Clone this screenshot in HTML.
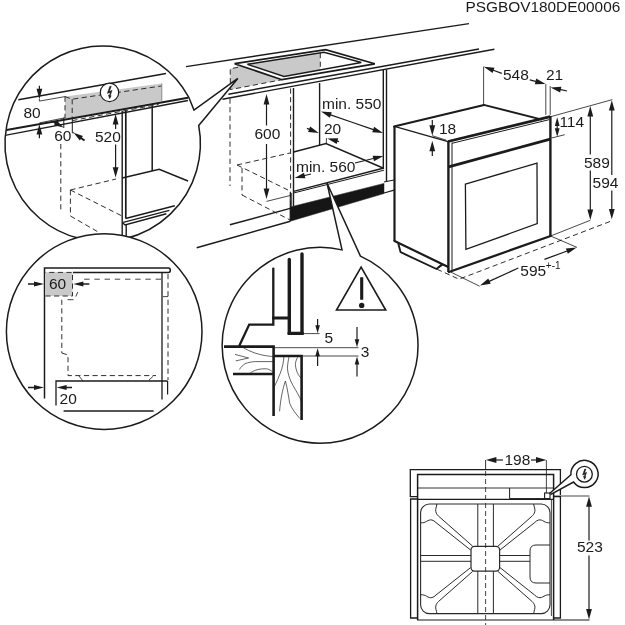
<!DOCTYPE html>
<html><head><meta charset="utf-8"><title>PSGBOV180DE00006</title>
<style>
html,body{margin:0;padding:0;background:#fff}
svg{display:block;filter:grayscale(1)}
text{font-family:"Liberation Sans",Arial,sans-serif;fill:#1b1b1b}
</style></head><body>
<svg width="625" height="625" viewBox="0 0 625 625">
<rect width="625" height="625" fill="#fff"/>
<text x="465.4" y="11.8" font-size="15.4">PSGBOV180DE00006</text>
<line x1="186" y1="66.6" x2="469" y2="23.6" stroke="#1b1b1b" stroke-width="1.4" stroke-linecap="butt"/>
<polygon points="230.2,68.8 238,67.3 234.6,63.7 282,79.7 230.4,89.6" fill="#c9c9c9" stroke="none" stroke-width="0" stroke-linejoin="miter" stroke-linecap="butt"/>
<polygon points="247.4,64.3 320.2,52.9 320.2,70 284,76.5" fill="#c9c9c9" stroke="none" stroke-width="0" stroke-linejoin="miter" stroke-linecap="butt"/>
<polyline points="238,67.3 230.2,68.8 230.4,89.6 282,79.7" fill="none" stroke="#2e2e2e" stroke-width="1.0" stroke-linejoin="miter" stroke-linecap="butt" stroke-dasharray="5.2 3.4"/>
<line x1="320.3" y1="53" x2="320.3" y2="70" stroke="#2e2e2e" stroke-width="1.0" stroke-linecap="butt" stroke-dasharray="5.2 3.4"/>
<polygon points="234.6,63.7 325.6,49.6 374.8,63.8 282,79.7" fill="none" stroke="#1b1b1b" stroke-width="1.7" stroke-linejoin="miter" stroke-linecap="butt"/>
<polygon points="247.4,64.3 324,52.3 361.3,62.5 284,76.5" fill="none" stroke="#1b1b1b" stroke-width="1.4" stroke-linejoin="miter" stroke-linecap="butt"/>
<line x1="228.4" y1="94.2" x2="479" y2="49" stroke="#1b1b1b" stroke-width="1.4" stroke-linecap="butt"/>
<line x1="222.5" y1="99.2" x2="494.4" y2="49.2" stroke="#1b1b1b" stroke-width="1.4" stroke-linecap="butt"/>
<line x1="230" y1="98.5" x2="230" y2="186" stroke="#2e2e2e" stroke-width="1.0" stroke-linecap="butt" stroke-dasharray="5.2 3.4"/>
<line x1="290.6" y1="88.5" x2="290.6" y2="220" stroke="#2e2e2e" stroke-width="1.0" stroke-linecap="butt" stroke-dasharray="5.2 3.4"/>
<line x1="293.5" y1="88" x2="293.5" y2="206" stroke="#1b1b1b" stroke-width="1.4" stroke-linecap="butt"/>
<line x1="319.6" y1="83" x2="319.6" y2="145" stroke="#1b1b1b" stroke-width="1.4" stroke-linecap="butt"/>
<line x1="383.3" y1="70" x2="383.3" y2="169" stroke="#1b1b1b" stroke-width="1.4" stroke-linecap="butt"/>
<line x1="386.5" y1="69.5" x2="386.5" y2="181.5" stroke="#1b1b1b" stroke-width="1.4" stroke-linecap="butt"/>
<line x1="266.5" y1="125.5" x2="266.5" y2="103.4" stroke="#1b1b1b" stroke-width="1.2" stroke-linecap="butt"/>
<polygon points="266.5,94 269.4,104.4 263.6,104.4" fill="#1b1b1b"/>
<line x1="266.5" y1="144" x2="266.5" y2="189.6" stroke="#1b1b1b" stroke-width="1.2" stroke-linecap="butt"/>
<polygon points="266.5,199 263.6,188.6 269.4,188.6" fill="#1b1b1b"/>
<line x1="266.5" y1="201.4" x2="290.6" y2="195.4" stroke="#1b1b1b" stroke-width="0.8" stroke-linecap="butt"/>
<text x="254.4" y="138.6" font-size="15.5">600</text>
<line x1="237" y1="165" x2="290" y2="153" stroke="#2e2e2e" stroke-width="1.0" stroke-linecap="butt" stroke-dasharray="5.2 3.4"/>
<line x1="237" y1="165" x2="290" y2="191" stroke="#2e2e2e" stroke-width="1.0" stroke-linecap="butt" stroke-dasharray="5.2 3.4"/>
<line x1="242" y1="168" x2="242" y2="195" stroke="#2e2e2e" stroke-width="1.0" stroke-linecap="butt" stroke-dasharray="5.2 3.4"/>
<line x1="242" y1="195" x2="290" y2="220" stroke="#2e2e2e" stroke-width="1.0" stroke-linecap="butt" stroke-dasharray="5.2 3.4"/>
<polyline points="293.6,152 326,143.6 383,168" fill="none" stroke="#1b1b1b" stroke-width="1.4" stroke-linejoin="miter" stroke-linecap="butt"/>
<line x1="326.4" y1="138" x2="326.4" y2="143.6" stroke="#1b1b1b" stroke-width="0.8" stroke-linecap="butt"/>
<line x1="293.6" y1="191.4" x2="384" y2="168" stroke="#1b1b1b" stroke-width="1.4" stroke-linecap="butt"/>
<line x1="293.6" y1="193" x2="384" y2="170.2" stroke="#1b1b1b" stroke-width="1.0" stroke-linecap="butt"/>
<line x1="290.3" y1="192.3" x2="290.3" y2="221" stroke="#1b1b1b" stroke-width="1.2" stroke-linecap="butt"/>
<line x1="291.6" y1="193" x2="291.6" y2="207" stroke="#1b1b1b" stroke-width="0.8" stroke-linecap="butt"/>
<polygon points="290.3,207 384,183.4 384,193.6 290.3,221.2" fill="#161616" stroke="#1b1b1b" stroke-width="0.5" stroke-linejoin="miter" stroke-linecap="butt"/>
<line x1="384" y1="182" x2="394" y2="180" stroke="#1b1b1b" stroke-width="1.2" stroke-linecap="butt"/>
<line x1="384" y1="193" x2="394" y2="190.2" stroke="#1b1b1b" stroke-width="1.2" stroke-linecap="butt"/>
<line x1="229.9" y1="224.8" x2="290.2" y2="208.4" stroke="#1b1b1b" stroke-width="1.5" stroke-linecap="butt"/>
<line x1="196.7" y1="247.8" x2="290.4" y2="221.2" stroke="#1b1b1b" stroke-width="1.5" stroke-linecap="butt"/>
<text x="322" y="109" font-size="15.5">min. 550</text>
<line x1="352" y1="122.3" x2="329.89" y2="114.67" stroke="#1b1b1b" stroke-width="1.2" stroke-linecap="butt"/>
<polygon points="321,111.6 331.78,112.25 329.88,117.73" fill="#1b1b1b"/>
<line x1="352" y1="122.3" x2="374.11" y2="129.93" stroke="#1b1b1b" stroke-width="1.2" stroke-linecap="butt"/>
<polygon points="383,133 372.22,132.35 374.12,126.87" fill="#1b1b1b"/>
<text x="324" y="134.4" font-size="15.5">20</text>
<line x1="307" y1="128.4" x2="310.04" y2="129.59" stroke="#1b1b1b" stroke-width="1.2" stroke-linecap="butt"/>
<polygon points="318.8,133 308.06,131.92 310.16,126.52" fill="#1b1b1b"/>
<line x1="339" y1="141.6" x2="336.46" y2="140.9" stroke="#1b1b1b" stroke-width="1.2" stroke-linecap="butt"/>
<polygon points="327.4,138.4 338.2,138.37 336.65,143.96" fill="#1b1b1b"/>
<text x="296" y="172.4" font-size="15.5">min. 560</text>
<line x1="311" y1="174" x2="303.73" y2="175.77" stroke="#1b1b1b" stroke-width="1.2" stroke-linecap="butt"/>
<polygon points="294.6,178 304.02,172.72 305.39,178.35" fill="#1b1b1b"/>
<line x1="355" y1="163" x2="374.27" y2="158.25" stroke="#1b1b1b" stroke-width="1.2" stroke-linecap="butt"/>
<polygon points="383.4,156 374.0,161.3 372.61,155.67" fill="#1b1b1b"/>
<polygon points="394.4,126.4 484,105 549,116 448,141.6" fill="#fff" stroke="none" stroke-width="0" stroke-linejoin="miter" stroke-linecap="butt"/>
<polygon points="394.4,126.4 394.4,240 448,266 448,141.6" fill="#fff" stroke="none" stroke-width="0" stroke-linejoin="miter" stroke-linecap="butt"/>
<polygon points="448,141.6 550.3,116 550.3,236 449,272" fill="#fff" stroke="none" stroke-width="0" stroke-linejoin="miter" stroke-linecap="butt"/>
<line x1="394" y1="126.5" x2="484" y2="105" stroke="#1b1b1b" stroke-width="2.0" stroke-linecap="round"/>
<line x1="483.8" y1="104.9" x2="541" y2="119.4" stroke="#1b1b1b" stroke-width="2.0" stroke-linecap="round"/>
<line x1="394.4" y1="126.4" x2="448" y2="141.6" stroke="#1b1b1b" stroke-width="1.2" stroke-linecap="butt"/>
<line x1="432.3" y1="135.7" x2="446.3" y2="140.2" stroke="#1b1b1b" stroke-width="0.8" stroke-linecap="butt"/>
<line x1="394.5" y1="126.4" x2="394.5" y2="241" stroke="#1b1b1b" stroke-width="2.2" stroke-linecap="butt"/>
<line x1="394.5" y1="241" x2="447.7" y2="266.7" stroke="#1b1b1b" stroke-width="2.2" stroke-linecap="round"/>
<line x1="448.4" y1="141.6" x2="448.4" y2="272" stroke="#1b1b1b" stroke-width="2.4" stroke-linecap="butt"/>
<line x1="452" y1="142.5" x2="452" y2="271" stroke="#1b1b1b" stroke-width="1.0" stroke-linecap="butt"/>
<line x1="448" y1="141.5" x2="550.4" y2="116.6" stroke="#1b1b1b" stroke-width="2.8" stroke-linecap="butt"/>
<line x1="452" y1="143.3" x2="549.4" y2="119.6" stroke="#1b1b1b" stroke-width="1.0" stroke-linecap="butt"/>
<line x1="448.6" y1="166.8" x2="550.3" y2="139.1" stroke="#1b1b1b" stroke-width="2.8" stroke-linecap="butt"/>
<line x1="449" y1="272" x2="550.6" y2="236" stroke="#1b1b1b" stroke-width="2.3" stroke-linecap="round"/>
<line x1="550.4" y1="116" x2="550.4" y2="236" stroke="#1b1b1b" stroke-width="2.4" stroke-linecap="butt"/>
<polygon points="465.4,184.1 537,163.1 537.2,223.6 465.9,249.4" fill="none" stroke="#1b1b1b" stroke-width="1.3" stroke-linejoin="miter" stroke-linecap="butt"/>
<polyline points="398.2,243.2 400.6,252.2 436.5,269 441.8,264.6" fill="none" stroke="#1b1b1b" stroke-width="1.9" stroke-linejoin="miter" stroke-linecap="butt"/>
<line x1="438.5" y1="268" x2="443" y2="264.8" stroke="#1b1b1b" stroke-width="1.0" stroke-linecap="butt"/>
<polyline points="437,269.2 459,279.2 611.4,221" fill="none" stroke="#2e2e2e" stroke-width="1.0" stroke-linejoin="miter" stroke-linecap="butt" stroke-dasharray="5.2 3.4"/>
<line x1="451" y1="272.2" x2="479.6" y2="286.2" stroke="#1b1b1b" stroke-width="0.8" stroke-linecap="butt"/>
<line x1="518.4" y1="268" x2="488.55" y2="281.6" stroke="#1b1b1b" stroke-width="1.2" stroke-linecap="butt"/>
<polygon points="480,285.5 488.26,278.55 490.67,283.83" fill="#1b1b1b"/>
<line x1="544.4" y1="259.4" x2="567.78" y2="250.76" stroke="#1b1b1b" stroke-width="1.2" stroke-linecap="butt"/>
<polygon points="576.6,247.5 567.85,253.83 565.84,248.38" fill="#1b1b1b"/>
<line x1="550.6" y1="236" x2="577" y2="247.4" stroke="#1b1b1b" stroke-width="0.8" stroke-linecap="butt"/>
<line x1="550.6" y1="236" x2="590.3" y2="220.3" stroke="#1b1b1b" stroke-width="0.8" stroke-linecap="butt"/>
<text x="520.3" y="276.3" font-size="15.5">595</text>
<text x="545.8" y="269" font-size="10">+-1</text>
<line x1="551" y1="116.6" x2="612.4" y2="99.6" stroke="#1b1b1b" stroke-width="0.8" stroke-linecap="butt"/>
<line x1="551.6" y1="138" x2="564.8" y2="134.7" stroke="#1b1b1b" stroke-width="0.8" stroke-linecap="butt"/>
<line x1="557.2" y1="126.7" x2="557.2" y2="124.9" stroke="#1b1b1b" stroke-width="1.2" stroke-linecap="butt"/>
<polygon points="557.2,117.3 559.6,125.9 554.8,125.9" fill="#1b1b1b"/>
<line x1="557.2" y1="126.7" x2="557.2" y2="129.2" stroke="#1b1b1b" stroke-width="1.2" stroke-linecap="butt"/>
<polygon points="557.2,136.8 554.8,128.2 559.6,128.2" fill="#1b1b1b"/>
<text x="559.4" y="127.3" font-size="15.5">114</text>
<line x1="590.3" y1="154.5" x2="590.3" y2="115.4" stroke="#1b1b1b" stroke-width="1.2" stroke-linecap="butt"/>
<polygon points="590.3,106 593.2,116.4 587.4,116.4" fill="#1b1b1b"/>
<line x1="590.3" y1="170.5" x2="590.3" y2="210.6" stroke="#1b1b1b" stroke-width="1.2" stroke-linecap="butt"/>
<polygon points="590.3,220 587.4,209.6 593.2,209.6" fill="#1b1b1b"/>
<text x="584" y="168.2" font-size="15.5">589</text>
<line x1="611.8" y1="175" x2="611.8" y2="109.6" stroke="#1b1b1b" stroke-width="1.2" stroke-linecap="butt"/>
<polygon points="611.8,100.2 614.7,110.6 608.9,110.6" fill="#1b1b1b"/>
<line x1="611.8" y1="190.5" x2="611.8" y2="209.9" stroke="#1b1b1b" stroke-width="1.2" stroke-linecap="butt"/>
<polygon points="611.8,219.3 608.9,208.9 614.7,208.9" fill="#1b1b1b"/>
<text x="592.6" y="188.3" font-size="15.5">594</text>
<line x1="483.6" y1="66.6" x2="483.6" y2="105" stroke="#1b1b1b" stroke-width="0.8" stroke-linecap="butt"/>
<line x1="545.8" y1="84" x2="545.8" y2="114.8" stroke="#1b1b1b" stroke-width="0.8" stroke-linecap="butt"/>
<line x1="550.2" y1="86" x2="550.2" y2="114.8" stroke="#1b1b1b" stroke-width="0.8" stroke-linecap="butt"/>
<line x1="501.8" y1="73.4" x2="492.63" y2="70.04" stroke="#1b1b1b" stroke-width="1.2" stroke-linecap="butt"/>
<polygon points="483.8,66.8 494.56,67.66 492.57,73.1" fill="#1b1b1b"/>
<line x1="529.8" y1="79.8" x2="536.52" y2="81.59" stroke="#1b1b1b" stroke-width="1.2" stroke-linecap="butt"/>
<polygon points="545.6,84 534.8,84.13 536.29,78.53" fill="#1b1b1b"/>
<line x1="567" y1="91" x2="559.78" y2="89.42" stroke="#1b1b1b" stroke-width="1.2" stroke-linecap="butt"/>
<polygon points="550.6,87.4 561.38,86.8 560.14,92.46" fill="#1b1b1b"/>
<text x="503" y="80.4" font-size="15.5">548</text>
<text x="546" y="80.2" font-size="15.5">21</text>
<line x1="432.3" y1="120" x2="432.3" y2="126.3" stroke="#1b1b1b" stroke-width="1.2" stroke-linecap="butt"/>
<polygon points="432.3,135.7 429.4,125.3 435.2,125.3" fill="#1b1b1b"/>
<line x1="432.3" y1="156" x2="432.3" y2="150.2" stroke="#1b1b1b" stroke-width="1.2" stroke-linecap="butt"/>
<polygon points="432.3,140.8 435.2,151.2 429.4,151.2" fill="#1b1b1b"/>
<text x="439" y="134" font-size="15.5">18</text>
<path d="M198.71,125.50 A97.7,97.7 0 1 1 188.96,97.72 L194,110 L237.8,78.4 Z" fill="#fff" stroke="none" stroke-width="0" stroke-linecap="butt" stroke-linejoin="round"/>
<clipPath id="c1"><circle cx="102.7" cy="143.6" r="97.7"/></clipPath>
<g clip-path="url(#c1)">
<polygon points="65,96.6 161.8,83.5 161.8,101 65,119" fill="#c9c9c9" stroke="none" stroke-width="0" stroke-linejoin="miter" stroke-linecap="butt"/>
<line x1="18.3" y1="99.8" x2="166" y2="73.6" stroke="#1b1b1b" stroke-width="1.5" stroke-linecap="butt"/>
<polyline points="39.4,99 39.4,101.1 65,96.6" fill="none" stroke="#1b1b1b" stroke-width="0.8" stroke-linejoin="miter" stroke-linecap="butt"/>
<polyline points="65,96.6 72.1,99.2 161.4,86" fill="none" stroke="#2e2e2e" stroke-width="1.0" stroke-linejoin="miter" stroke-linecap="butt" stroke-dasharray="5.2 3.4"/>
<line x1="65" y1="96.6" x2="65" y2="118" stroke="#2e2e2e" stroke-width="1.0" stroke-linecap="butt" stroke-dasharray="5.2 3.4"/>
<line x1="161.8" y1="83.5" x2="161.8" y2="101" stroke="#777" stroke-width="0.8" stroke-linecap="butt"/>
<line x1="72.2" y1="99.2" x2="72.2" y2="117.5" stroke="#2e2e2e" stroke-width="1.0" stroke-linecap="butt" stroke-dasharray="5.2 3.4"/>
<polyline points="72.3,117.5 72.3,132.8 74.2,132.8" fill="none" stroke="#1b1b1b" stroke-width="1.0" stroke-linejoin="miter" stroke-linecap="butt"/>
<line x1="72.3" y1="120.6" x2="158.6" y2="104.4" stroke="#2e2e2e" stroke-width="1.0" stroke-linecap="butt" stroke-dasharray="5.2 3.4"/>
<line x1="5" y1="130.2" x2="188" y2="97.8" stroke="#1b1b1b" stroke-width="1.9" stroke-linecap="butt"/>
<line x1="5" y1="135.4" x2="188" y2="100.5" stroke="#1b1b1b" stroke-width="1.4" stroke-linecap="butt"/>
<line x1="39.4" y1="122.9" x2="65" y2="117.8" stroke="#1b1b1b" stroke-width="0.8" stroke-linecap="butt"/>
<line x1="63.8" y1="117.6" x2="63.8" y2="128" stroke="#1b1b1b" stroke-width="1.0" stroke-linecap="butt"/>
<line x1="39.4" y1="85.8" x2="39.4" y2="89.8" stroke="#1b1b1b" stroke-width="1.2" stroke-linecap="butt"/>
<polygon points="39.4,99.2 36.5,88.8 42.3,88.8" fill="#1b1b1b"/>
<line x1="39.4" y1="138.2" x2="39.4" y2="133.6" stroke="#1b1b1b" stroke-width="1.2" stroke-linecap="butt"/>
<polygon points="39.4,124.2 42.3,134.6 36.5,134.6" fill="#1b1b1b"/>
<line x1="53.6" y1="121.9" x2="56.22" y2="123.39" stroke="#1b1b1b" stroke-width="1.8" stroke-linecap="butt"/>
<polygon points="63.6,127.6 54.01,125.24 56.68,120.55" fill="#1b1b1b"/>
<line x1="84.6" y1="140.5" x2="80.56" y2="137.67" stroke="#1b1b1b" stroke-width="1.9" stroke-linecap="butt"/>
<polygon points="73.6,132.8 82.93,136.04 79.83,140.46" fill="#1b1b1b"/>
<line x1="122.2" y1="111" x2="122.2" y2="245" stroke="#1b1b1b" stroke-width="1.4" stroke-linecap="butt"/>
<line x1="125.8" y1="110.5" x2="125.8" y2="218.6" stroke="#1b1b1b" stroke-width="1.7" stroke-linecap="butt"/>
<line x1="126.2" y1="225" x2="126.2" y2="245" stroke="#1b1b1b" stroke-width="1.4" stroke-linecap="butt"/>
<line x1="152.2" y1="106" x2="152.2" y2="171" stroke="#1b1b1b" stroke-width="1.5" stroke-linecap="butt"/>
<polyline points="122.2,178 159.2,169.3 188,181" fill="none" stroke="#1b1b1b" stroke-width="1.5" stroke-linejoin="miter" stroke-linecap="butt"/>
<line x1="125.6" y1="218.4" x2="174.8" y2="205.8" stroke="#1b1b1b" stroke-width="1.5" stroke-linecap="butt"/>
<line x1="123.2" y1="222.4" x2="169.4" y2="210.4" stroke="#1b1b1b" stroke-width="1.4" stroke-linecap="butt"/>
<polyline points="122.4,222.6 125,225 166.4,213.8" fill="none" stroke="#1b1b1b" stroke-width="1.4" stroke-linejoin="miter" stroke-linecap="butt"/>
<line x1="115.6" y1="129" x2="115.6" y2="123.4" stroke="#1b1b1b" stroke-width="1.2" stroke-linecap="butt"/>
<polygon points="115.6,114 118.5,124.4 112.7,124.4" fill="#1b1b1b"/>
<line x1="115.6" y1="144.5" x2="115.6" y2="168.2" stroke="#1b1b1b" stroke-width="1.2" stroke-linecap="butt"/>
<polygon points="115.6,177.6 112.7,167.2 118.5,167.2" fill="#1b1b1b"/>
<line x1="60.8" y1="144" x2="60.8" y2="211" stroke="#2e2e2e" stroke-width="1.0" stroke-linecap="butt" stroke-dasharray="5.2 3.4"/>
<line x1="70.4" y1="190" x2="116" y2="179" stroke="#2e2e2e" stroke-width="1.0" stroke-linecap="butt" stroke-dasharray="5.2 3.4"/>
<line x1="70.4" y1="190" x2="70.4" y2="216" stroke="#2e2e2e" stroke-width="1.0" stroke-linecap="butt" stroke-dasharray="5.2 3.4"/>
<line x1="70.4" y1="216" x2="100" y2="233" stroke="#2e2e2e" stroke-width="1.0" stroke-linecap="butt" stroke-dasharray="5.2 3.4"/>
<line x1="70.4" y1="190" x2="122" y2="216" stroke="#2e2e2e" stroke-width="1.0" stroke-linecap="butt" stroke-dasharray="5.2 3.4"/>
<circle cx="109.5" cy="92.4" r="9.2" fill="#fff" stroke="#1b1b1b" stroke-width="1.2"/>
<polygon points="109.8,86.2 111.4,86.2 109.5,91.3 112.2,90.3 110.45,95.5 111.3,95.8 109.7,99.0 108.2,95.1 109.25,95.35 110.35,92.4 107.2,93.6" fill="#1b1b1b" stroke="#1b1b1b" stroke-width="0.3" stroke-linejoin="miter"/>
<text x="23.4" y="117.6" font-size="15.5">80</text>
<text x="54.2" y="141" font-size="15.5">60</text>
<text x="95" y="141.5" font-size="15.5">520</text>
</g>
<path d="M198.71,125.50 A97.7,97.7 0 1 1 188.96,97.72 L194,110 L237.8,78.4 Z" fill="none" stroke="#1b1b1b" stroke-width="1.5" stroke-linecap="butt" stroke-linejoin="miter"/>
<path d="M360.41,256.09 A97.9,97.9 0 1 1 342.03,249.89 L327,183 Z" fill="#fff" stroke="none" stroke-width="0" stroke-linecap="butt" stroke-linejoin="round"/>
<clipPath id="c3"><circle cx="320.1" cy="345.3" r="97.9"/></clipPath>
<g clip-path="url(#c3)">
<path d="M243.6,347.9 C250,351.5 258,354.6 265.2,355.6 C268,356 271,356.4 273.1,356.6" fill="none" stroke="#333" stroke-width="0.75" stroke-linecap="butt" stroke-linejoin="round"/>
<path d="M235,354.4 L248.6,358 L235.7,360.9" fill="none" stroke="#333" stroke-width="0.75" stroke-linecap="butt" stroke-linejoin="miter"/>
<path d="M239.3,369.5 C241,367 243,365 245,363.8 C248,362.4 252,361.8 255.1,361.6 L273.1,361.6" fill="none" stroke="#333" stroke-width="0.75" stroke-linecap="butt" stroke-linejoin="round"/>
<path d="M249.4,373.8 C252,371.6 255,370.2 258,369.5 C261,368.8 264,368.6 266.6,368.8 C269,369.2 271.4,370.6 273.1,372.4" fill="none" stroke="#333" stroke-width="0.75" stroke-linecap="butt" stroke-linejoin="round"/>
<path d="M283.9,356.6 C283.6,362 282.4,368 280.3,373.1 C278.6,377.6 276.6,382 274.6,386.1" fill="none" stroke="#333" stroke-width="0.75" stroke-linecap="butt" stroke-linejoin="round"/>
<path d="M289,356.6 C288.2,361 287.4,365 287.5,368.8 C287.8,373.4 289.4,378 291.1,381.8 C293.6,387 297.4,392.6 299.8,397.6 C300.8,399.8 301.4,401.6 301.9,403.4" fill="none" stroke="#333" stroke-width="0.75" stroke-linecap="butt" stroke-linejoin="round"/>
<path d="M297.6,357.3 C296.4,359.6 295.4,362 295.4,364.5 C295.6,368.2 296.8,371.8 298.3,374.6 C299.4,376.4 300.8,377.8 301.9,378.9" fill="none" stroke="#333" stroke-width="0.75" stroke-linecap="butt" stroke-linejoin="round"/>
<path d="M279.6,411.3 C280.4,400 282.6,389 285.4,381 C287.4,388 288.4,396 289.7,403.4 C292,409 296,414 299.8,418.5" fill="none" stroke="#333" stroke-width="0.75" stroke-linecap="butt" stroke-linejoin="round"/>
<line x1="273.3" y1="268.6" x2="273.3" y2="318" stroke="#1b1b1b" stroke-width="2.3" stroke-linecap="round"/>
<line x1="289.3" y1="259.4" x2="289.3" y2="333.4" stroke="#1b1b1b" stroke-width="3.4" stroke-linecap="round"/>
<line x1="302" y1="254" x2="302" y2="333.4" stroke="#1b1b1b" stroke-width="3.4" stroke-linecap="round"/>
<polyline points="289.3,332 289.3,333.4 302,333.4 302,332" fill="none" stroke="#1b1b1b" stroke-width="3.4" stroke-linejoin="miter" stroke-linecap="butt"/>
<line x1="272.2" y1="318" x2="289.3" y2="318" stroke="#1b1b1b" stroke-width="3.0" stroke-linecap="butt"/>
<polyline points="273.3,317 273.3,324.6 249.2,324.6 239.2,346" fill="none" stroke="#1b1b1b" stroke-width="2.3" stroke-linejoin="miter" stroke-linecap="butt"/>
<polyline points="224,346.6 273.6,346.6 273.6,416" fill="none" stroke="#1b1b1b" stroke-width="2.6" stroke-linejoin="miter" stroke-linecap="butt"/>
<line x1="233" y1="374" x2="273.6" y2="374" stroke="#1b1b1b" stroke-width="2.6" stroke-linecap="butt"/>
<polyline points="274.4,356 301.6,356 301.6,420" fill="none" stroke="#1b1b1b" stroke-width="2.6" stroke-linejoin="miter" stroke-linecap="butt"/>
<line x1="302" y1="333.6" x2="319.5" y2="333.6" stroke="#1b1b1b" stroke-width="0.8" stroke-linecap="butt"/>
<line x1="273.4" y1="347.7" x2="358.5" y2="347.7" stroke="#1b1b1b" stroke-width="0.8" stroke-linecap="butt"/>
<line x1="301.6" y1="356" x2="358.5" y2="356" stroke="#1b1b1b" stroke-width="0.8" stroke-linecap="butt"/>
<line x1="317.6" y1="319" x2="317.6" y2="326.2" stroke="#1b1b1b" stroke-width="1.2" stroke-linecap="butt"/>
<polygon points="317.6,333.2 315.3,325.2 319.9,325.2" fill="#1b1b1b"/>
<line x1="317.6" y1="366" x2="317.6" y2="355.2" stroke="#1b1b1b" stroke-width="1.2" stroke-linecap="butt"/>
<polygon points="317.6,348.2 319.9,356.2 315.3,356.2" fill="#1b1b1b"/>
<line x1="357" y1="327" x2="357.0" y2="340.2" stroke="#1b1b1b" stroke-width="1.2" stroke-linecap="butt"/>
<polygon points="357,347.2 354.7,339.2 359.3,339.2" fill="#1b1b1b"/>
<line x1="357" y1="376.4" x2="357.0" y2="363.6" stroke="#1b1b1b" stroke-width="1.2" stroke-linecap="butt"/>
<polygon points="357,356.6 359.3,364.6 354.7,364.6" fill="#1b1b1b"/>
<text x="324.6" y="342.6" font-size="15.5">5</text>
<text x="360.8" y="357.2" font-size="15.5">3</text>
<polygon points="361.1,267.2 336.5,310 385.7,310" fill="none" stroke="#1b1b1b" stroke-width="1.6" stroke-linejoin="miter" stroke-linecap="butt"/>
<line x1="361.7" y1="277.2" x2="361.7" y2="299.8" stroke="#1b1b1b" stroke-width="3.1" stroke-linecap="butt"/>
<circle cx="361.7" cy="305.4" r="2.7" fill="#1b1b1b"/>
</g>
<path d="M360.41,256.09 A97.9,97.9 0 1 1 342.03,249.89 L327,183 Z" fill="none" stroke="#1b1b1b" stroke-width="1.5" stroke-linecap="butt" stroke-linejoin="miter"/>
<circle cx="104.2" cy="331.6" r="97.8" fill="#fff" stroke="none"/>
<clipPath id="c2"><circle cx="104.2" cy="331.6" r="97.8"/></clipPath>
<g clip-path="url(#c2)">
<path d="M44.5,398.4 L44.5,268 L168.5,268 Q170.3,268 170.3,270.3 Q170.3,272.5 168.5,272.5 L73,272.5" fill="none" stroke="#1b1b1b" stroke-width="1.5" stroke-linecap="butt" stroke-linejoin="miter"/>
<rect x="45.2" y="272.2" width="27.3" height="23.8" fill="#c9c9c9"/>
<polyline points="45.4,296 72.5,296 72.5,272.4 45.4,272.4" fill="none" stroke="#2e2e2e" stroke-width="1.0" stroke-linejoin="miter" stroke-linecap="butt" stroke-dasharray="5.2 3.4"/>
<text x="49" y="289.2" font-size="15.5">60</text>
<line x1="28" y1="284" x2="35.0" y2="284.0" stroke="#1b1b1b" stroke-width="1.5" stroke-linecap="butt"/>
<polygon points="44,284 34.0,286.5 34.0,281.5" fill="#1b1b1b"/>
<line x1="89.3" y1="284" x2="82.4" y2="284.0" stroke="#1b1b1b" stroke-width="1.5" stroke-linecap="butt"/>
<polygon points="73.4,284 83.4,281.5 83.4,286.5" fill="#1b1b1b"/>
<line x1="84.2" y1="279.2" x2="162" y2="279.2" stroke="#2e2e2e" stroke-width="0.9" stroke-linecap="butt" stroke-dasharray="5.4 4.8"/>
<line x1="77.8" y1="292" x2="75.8" y2="296.5" stroke="#2e2e2e" stroke-width="0.9" stroke-linecap="butt"/>
<line x1="67.5" y1="299.7" x2="73.5" y2="299.7" stroke="#2e2e2e" stroke-width="0.9" stroke-linecap="butt"/>
<line x1="61.8" y1="299.7" x2="61.8" y2="353" stroke="#2e2e2e" stroke-width="1.0" stroke-linecap="butt" stroke-dasharray="5.2 3.4"/>
<polyline points="61.8,353 68,355 68,375.6 156,375.6" fill="none" stroke="#2e2e2e" stroke-width="1.0" stroke-linejoin="miter" stroke-linecap="butt" stroke-dasharray="5.2 3.4"/>
<line x1="162" y1="272.6" x2="162" y2="399.6" stroke="#1b1b1b" stroke-width="1.3" stroke-linecap="butt"/>
<line x1="168" y1="274" x2="168" y2="380" stroke="#2e2e2e" stroke-width="1.0" stroke-linecap="butt" stroke-dasharray="5.2 3.4"/>
<line x1="167.6" y1="381" x2="167.6" y2="394.4" stroke="#1b1b1b" stroke-width="1.2" stroke-linecap="butt"/>
<line x1="163" y1="296.6" x2="168" y2="296.6" stroke="#1b1b1b" stroke-width="0.8" stroke-linecap="butt"/>
<polyline points="56,405.6 56,381 167.6,381" fill="none" stroke="#1b1b1b" stroke-width="1.3" stroke-linejoin="miter" stroke-linecap="butt"/>
<line x1="79" y1="376" x2="83" y2="381" stroke="#1b1b1b" stroke-width="0.8" stroke-linecap="butt"/>
<line x1="149" y1="380" x2="153" y2="376.4" stroke="#1b1b1b" stroke-width="0.8" stroke-linecap="butt"/>
<line x1="28" y1="387.6" x2="35.0" y2="387.6" stroke="#1b1b1b" stroke-width="1.5" stroke-linecap="butt"/>
<polygon points="44,387.6 34.0,390.1 34.0,385.1" fill="#1b1b1b"/>
<line x1="72" y1="387.6" x2="65.6" y2="387.6" stroke="#1b1b1b" stroke-width="1.5" stroke-linecap="butt"/>
<polygon points="56.6,387.6 66.6,385.1 66.6,390.1" fill="#1b1b1b"/>
<text x="59.6" y="403.6" font-size="15.5">20</text>
<line x1="63.6" y1="411" x2="153.6" y2="411" stroke="#1b1b1b" stroke-width="1.3" stroke-linecap="butt"/>
</g>
<circle cx="104.2" cy="331.6" r="97.8" fill="none" stroke="#1b1b1b" stroke-width="1.5"/>
<polyline points="417,496.6 410.3,496.6 410.3,469.6 560.4,469.6 560.4,495" fill="none" stroke="#1b1b1b" stroke-width="1.3" stroke-linejoin="miter" stroke-linecap="butt"/>
<polyline points="417.6,620 417.6,474.6 553.6,474.6 553.6,620" fill="none" stroke="#1b1b1b" stroke-width="1.5" stroke-linejoin="miter" stroke-linecap="butt"/>
<line x1="417.6" y1="488" x2="553.6" y2="488" stroke="#1b1b1b" stroke-width="0.9" stroke-linecap="butt"/>
<line x1="417.6" y1="499.4" x2="553.6" y2="499.4" stroke="#1b1b1b" stroke-width="1.2" stroke-linecap="butt"/>
<polyline points="417,499 410.6,499 410.6,618 417.6,618" fill="none" stroke="#1b1b1b" stroke-width="1.3" stroke-linejoin="miter" stroke-linecap="butt"/>
<polyline points="553.6,496.6 560.4,496.6 560.4,618 553.6,618" fill="none" stroke="#1b1b1b" stroke-width="1.3" stroke-linejoin="miter" stroke-linecap="butt"/>
<line x1="417" y1="620" x2="589.5" y2="620" stroke="#1b1b1b" stroke-width="1.2" stroke-linecap="butt"/>
<polyline points="509.6,488 509.6,498.6 544.4,498.6" fill="none" stroke="#1b1b1b" stroke-width="1.0" stroke-linejoin="miter" stroke-linecap="butt"/>
<rect x="544.6" y="493" width="5.4" height="5.6" fill="#fff" stroke="#1b1b1b" stroke-width="1.1"/>
<line x1="551.4" y1="500" x2="551.4" y2="616" stroke="#1b1b1b" stroke-width="0.8" stroke-linecap="butt"/>
<line x1="485.6" y1="460" x2="485.6" y2="469.6" stroke="#1b1b1b" stroke-width="0.9" stroke-linecap="butt"/>
<line x1="485.6" y1="471" x2="485.6" y2="625" stroke="#333" stroke-width="0.9" stroke-linecap="butt" stroke-dasharray="5 3"/>
<line x1="503" y1="460" x2="495.4" y2="460.0" stroke="#1b1b1b" stroke-width="1.2" stroke-linecap="butt"/>
<polygon points="486,460 496.4,457.1 496.4,462.9" fill="#1b1b1b"/>
<line x1="531" y1="460" x2="537.0" y2="460.0" stroke="#1b1b1b" stroke-width="1.2" stroke-linecap="butt"/>
<polygon points="546.4,460 536.0,462.9 536.0,457.1" fill="#1b1b1b"/>
<line x1="546.4" y1="460" x2="546.4" y2="493" stroke="#1b1b1b" stroke-width="0.8" stroke-linecap="butt"/>
<text x="504.4" y="465.2" font-size="15.5">198</text>
<path d="M549.3,493.8 L570.92,474.71 A13.6,13.6 0 1 1 573.54,482.05 L550.4,494.6" fill="#fff" stroke="#1b1b1b" stroke-width="1.5" stroke-linecap="butt" stroke-linejoin="miter"/>
<circle cx="584.4" cy="474.2" r="7.9" fill="#fff" stroke="#1b1b1b" stroke-width="1.3"/>
<polygon points="584.68,469.08 585.96,469.08 584.44,473.16 586.6,472.36 585.2,476.52 585.88,476.76 584.6,479.32 583.4,476.2 584.24,476.4 585.12,474.04 582.6,475.0" fill="#1b1b1b" stroke="#1b1b1b" stroke-width="0.5" stroke-linejoin="miter"/>
<line x1="554" y1="496" x2="589.5" y2="496" stroke="#1b1b1b" stroke-width="0.8" stroke-linecap="butt"/>
<line x1="589" y1="540.5" x2="589.0" y2="505.8" stroke="#1b1b1b" stroke-width="1.2" stroke-linecap="butt"/>
<polygon points="589,496.4 591.9,506.8 586.1,506.8" fill="#1b1b1b"/>
<line x1="589" y1="555.5" x2="589.0" y2="610.0" stroke="#1b1b1b" stroke-width="1.2" stroke-linecap="butt"/>
<polygon points="589,619.4 586.1,609.0 591.9,609.0" fill="#1b1b1b"/>
<text x="577" y="552.3" font-size="15.5">523</text>
<rect x="420.6" y="504" width="129.4" height="109.6" rx="8.8" ry="8.8" fill="none" stroke="#2a2a2a" stroke-width="1.1"/>
<rect x="471" y="546.4" width="28.6" height="24.8" rx="3.6" ry="3.6" fill="none" stroke="#2a2a2a" stroke-width="1.2"/>
<line x1="477.8" y1="504" x2="477.8" y2="546.4" stroke="#2a2a2a" stroke-width="1.0" stroke-linecap="butt"/>
<line x1="477.8" y1="571.2" x2="477.8" y2="613.6" stroke="#2a2a2a" stroke-width="1.0" stroke-linecap="butt"/>
<line x1="493.4" y1="504" x2="493.4" y2="546.4" stroke="#2a2a2a" stroke-width="1.0" stroke-linecap="butt"/>
<line x1="493.4" y1="571.2" x2="493.4" y2="613.6" stroke="#2a2a2a" stroke-width="1.0" stroke-linecap="butt"/>
<line x1="420.6" y1="555.5" x2="471" y2="555.5" stroke="#2a2a2a" stroke-width="1.0" stroke-linecap="butt"/>
<line x1="499.6" y1="555.5" x2="530" y2="555.5" stroke="#2a2a2a" stroke-width="1.0" stroke-linecap="butt"/>
<line x1="420.6" y1="561.3" x2="471" y2="561.3" stroke="#2a2a2a" stroke-width="1.0" stroke-linecap="butt"/>
<line x1="499.6" y1="561.3" x2="530" y2="561.3" stroke="#2a2a2a" stroke-width="1.0" stroke-linecap="butt"/>
<path d="M550,545 L536,545 Q530,545 530,551 L530,577 Q530,583 536,583 L550,583" fill="none" stroke="#2a2a2a" stroke-width="1.0" stroke-linecap="butt" stroke-linejoin="round"/>
<path d="M436.9,504 C436.6,507 435.2,509 435.8,511.6 C436.4,514 437.4,515 438.4,516 L472.7,546.2" fill="none" stroke="#2a2a2a" stroke-width="1.0" stroke-linecap="butt" stroke-linejoin="round"/>
<path d="M 533.70 504.00 C 534.00 507.00 535.40 509.00 534.80 511.60 C 534.20 514.00 533.20 515.00 532.20 516.00 L 497.90 546.20" fill="none" stroke="#2a2a2a" stroke-width="1.0" stroke-linecap="butt" stroke-linejoin="round"/>
<path d="M 436.90 613.60 C 436.60 610.60 435.20 608.60 435.80 606.00 C 436.40 603.60 437.40 602.60 438.40 601.60 L 472.70 571.40" fill="none" stroke="#2a2a2a" stroke-width="1.0" stroke-linecap="butt" stroke-linejoin="round"/>
<path d="M 533.70 613.60 C 534.00 610.60 535.40 608.60 534.80 606.00 C 534.20 603.60 533.20 602.60 532.20 601.60 L 497.90 571.40" fill="none" stroke="#2a2a2a" stroke-width="1.0" stroke-linecap="butt" stroke-linejoin="round"/>
<path d="M420.6,522.8 C423,523 425,522.4 426.6,521.4 C428.6,520.2 430,519.6 432,520 C433.6,520.4 434.8,521.4 436,522.6 L470.6,550" fill="none" stroke="#2a2a2a" stroke-width="1.0" stroke-linecap="butt" stroke-linejoin="round"/>
<path d="M 550.00 522.80 C 547.60 523.00 545.60 522.40 544.00 521.40 C 542.00 520.20 540.60 519.60 538.60 520.00 C 537.00 520.40 535.80 521.40 534.60 522.60 L 500.00 550.00" fill="none" stroke="#2a2a2a" stroke-width="1.0" stroke-linecap="butt" stroke-linejoin="round"/>
<path d="M 420.60 594.80 C 423.00 594.60 425.00 595.20 426.60 596.20 C 428.60 597.40 430.00 598.00 432.00 597.60 C 433.60 597.20 434.80 596.20 436.00 595.00 L 470.60 567.60" fill="none" stroke="#2a2a2a" stroke-width="1.0" stroke-linecap="butt" stroke-linejoin="round"/>
<path d="M 550.00 594.80 C 547.60 594.60 545.60 595.20 544.00 596.20 C 542.00 597.40 540.60 598.00 538.60 597.60 C 537.00 597.20 535.80 596.20 534.60 595.00 L 500.00 567.60" fill="none" stroke="#2a2a2a" stroke-width="1.0" stroke-linecap="butt" stroke-linejoin="round"/>
</svg>
</body></html>
